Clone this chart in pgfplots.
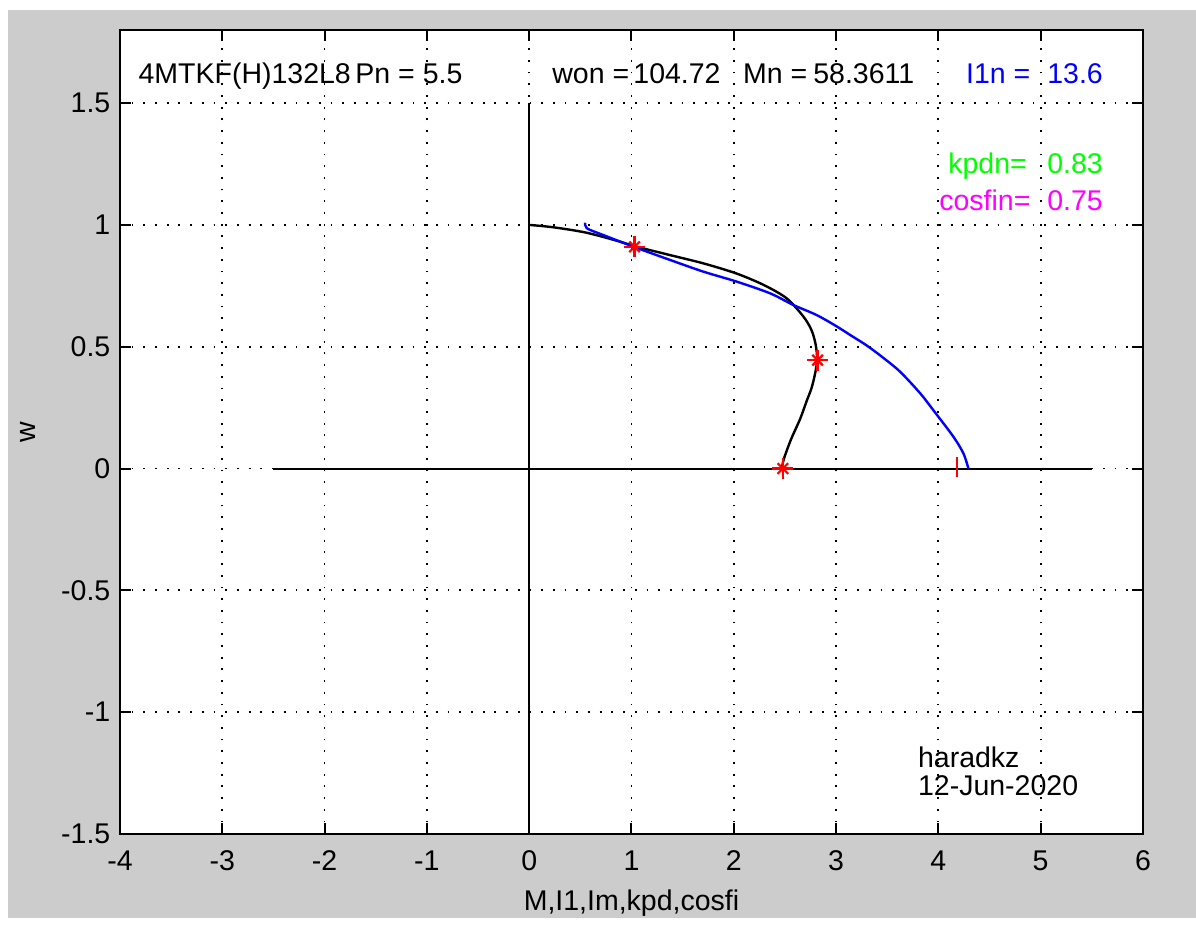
\documentclass[border=0pt]{standalone}
\usepackage{fontspec}
\setmainfont{Liberation Sans}
\usepackage{pgfplots}
\pgfplotsset{compat=1.18}
\definecolor{figgray}{RGB}{204,204,204}
\definecolor{mblue}{RGB}{0,0,255}
\definecolor{mgreen}{RGB}{0,255,0}
\definecolor{mmagenta}{RGB}{255,0,255}
\definecolor{mred}{RGB}{255,0,0}
\begin{document}
\fontsize{28.5}{30}\selectfont
\begin{tikzpicture}
% figure background, measured from the lower left corner of the axes box
\fill[white] (-120pt,-84pt) rectangle (1076pt,834pt);
\fill[figgray] (-112pt,-84pt) rectangle (1076pt,824pt);
\begin{axis}[
  at={(0pt,0pt)}, anchor=south west,
  scale only axis, width=1023pt, height=804pt,
  xmin=-4, xmax=6, ymin=-1.5, ymax=1.8,
  xtick={-4,-3,-2,-1,0,1,2,3,4,5,6},
  xticklabels={-4,-3,-2,-1,0,1,2,3,4,5,6},
  ytick={-1.5,-1,-0.5,0,0.5,1,1.5},
  yticklabels={-1.5,-1,-0.5,0,0.5,1,1.5},
  axis background/.style={fill=white},
  axis line style={line width=2pt, black},
  tick align=inside,
  major tick length=11pt,
  tick style={line width=2pt, black},
  xticklabel style={anchor=center, yshift=-27pt},
  grid=major,
  major grid style={black, line width=1.8pt, dash pattern=on 1.8pt off 9.9pt},
  xlabel={M,I1,Im,kpd,cosfi},
  ylabel={w},
  xlabel style={at={(axis description cs:0.5,-0.0858)}, anchor=center},
  ylabel style={at={(axis description cs:-0.0899,0.5)}, anchor=center},
  clip=false,
]
% coordinate cross
\addplot[black, line width=2pt] coordinates {(-2.5,0) (5.5,0)};
\addplot[black, line width=2pt] coordinates {(0,-1.5) (0,1.5)};

% torque characteristic M(w)
\addplot[black, line width=2.4pt, smooth] coordinates {
  (0,1.0) (0.24,0.99) (0.56,0.968) (0.89,0.931) (1.036,0.912)
  (1.378,0.876) (1.704,0.842) (2.03,0.800) (2.30,0.752) (2.519,0.698)
  (2.682,0.623) (2.76,0.568) (2.80,0.51) (2.815,0.448) (2.795,0.39)
  (2.76,0.33) (2.715,0.28) (2.65,0.205) (2.56,0.12) (2.49,0.04) (2.47,0.0)
};

% stator current I1(w)
\addplot[mblue, line width=2.4pt, smooth] coordinates {
  (0.547,1.009) (0.564,0.986) (0.727,0.958) (1.036,0.908) (1.378,0.856)
  (1.704,0.808) (2.03,0.767) (2.356,0.719) (2.584,0.671) (2.81,0.63)
  (3.0,0.585) (3.15,0.545) (3.30,0.505) (3.46,0.455) (3.627,0.397)
  (3.822,0.309) (3.95,0.24) (4.148,0.13) (4.245,0.062) (4.294,0.0)
};

% rated, critical and starting points
\addplot[only marks, mark=+, mark size=10.5pt, mred, mark options={line width=2.4pt}]
  coordinates {(1.03,0.91) (2.82,0.445) (2.48,0.0)};
\addplot[only marks, mark=x, mark size=7.5pt, mred, mark options={line width=2.2pt}]
  coordinates {(1.03,0.91) (2.82,0.445) (2.48,0.0)};
\addplot[only marks, mark=|, mark size=10pt, mred, mark options={line width=2pt}]
  coordinates {(4.18,0.008)};

% annotations
\node[anchor=base west, inner sep=0] at (axis cs:-3.82,1.582) {4MTKF(H)132L8};
\node[anchor=base west, inner sep=0] at (axis cs:-1.70,1.582) {Pn = 5.5};
\node[anchor=base west, inner sep=0] at (axis cs:0.225,1.582) {won =};
\node[anchor=base west, inner sep=0] at (axis cs:1.017,1.582) {104.72};
\node[anchor=base west, inner sep=0] at (axis cs:2.09,1.582) {Mn =};
\node[anchor=base west, inner sep=0] at (axis cs:2.776,1.582) {58.3611};
\node[anchor=base west, inner sep=0, text=mblue] at (axis cs:4.27,1.582) {I1n =};
\node[anchor=base west, inner sep=0, text=mblue] at (axis cs:5.063,1.582) {13.6};
\node[anchor=base west, inner sep=0, text=mgreen] at (axis cs:4.096,1.213) {kpdn=};
\node[anchor=base west, inner sep=0, text=mgreen] at (axis cs:5.063,1.213) {0.83};
\node[anchor=base west, inner sep=0, text=mmagenta] at (axis cs:4.008,1.061) {cosfin=};
\node[anchor=base west, inner sep=0, text=mmagenta] at (axis cs:5.063,1.061) {0.75};
\node[anchor=base west, inner sep=0] at (axis cs:3.80,-1.228) {haradkz};
\node[anchor=base west, inner sep=0] at (axis cs:3.80,-1.340) {12-Jun-2020};
\end{axis}
\end{tikzpicture}
\end{document}
